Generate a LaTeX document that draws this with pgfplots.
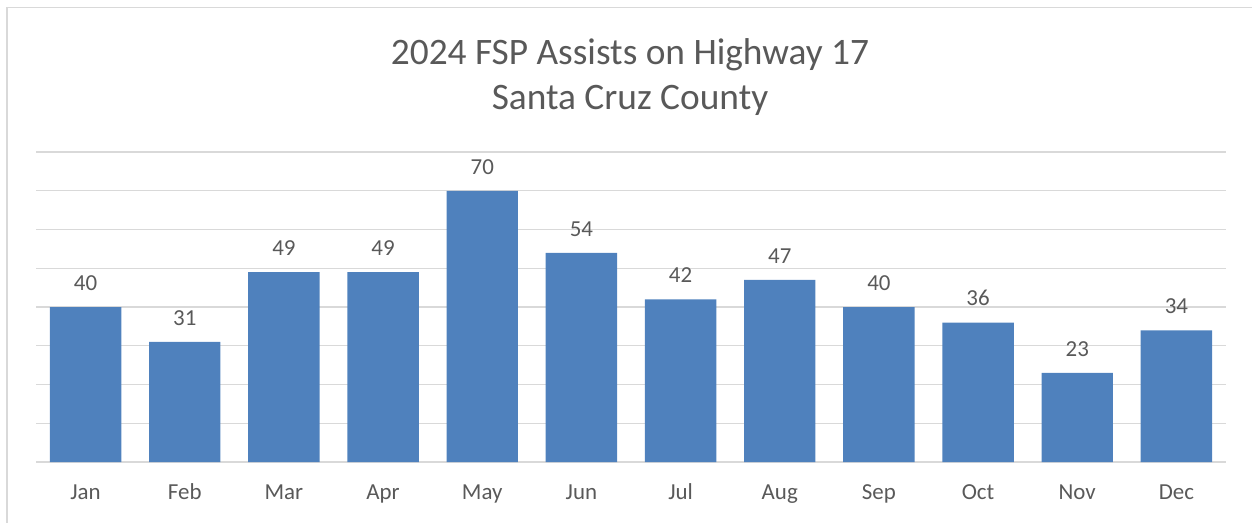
\documentclass[border=0pt]{standalone}
\usepackage{pgfplots}
\pgfplotsset{compat=1.18}
\usepackage{fontspec}
\setmainfont{Carlito}
\definecolor{barblue}{HTML}{4F81BD}
\definecolor{gridgray}{HTML}{D9D9D9}
\definecolor{txtgray}{HTML}{595959}
\begin{document}
\begin{tikzpicture}
\path[use as bounding box] (0,0) rectangle (1252bp,523bp);
\draw[gridgray, line width=1.5bp] (7bp,0) -- (7bp,515.5bp) -- (1252bp,515.5bp);
\begin{axis}[
  at={(36bp,61bp)}, anchor=south west,
  scale only axis, width=1190bp, height=310bp,
  xmin=-0.5, xmax=11.5, ymin=0, ymax=80,
  ybar, bar width=71.4bp,
  axis line style={draw=none},
  ymajorgrids, grid style={gridgray, line width=1.3bp},
  ytick={0,10,...,80}, yticklabels={},
  xtick=data,
  xticklabels={Jan,Feb,Mar,Apr,May,Jun,Jul,Aug,Sep,Oct,Nov,Dec},
  xticklabel style={font=\fontsize{23}{26}\selectfont, text=txtgray, yshift=-18bp, text height=16bp, text depth=5bp},
  major tick length=0pt,
  nodes near coords,
  every node near coord/.append style={font=\fontsize{23}{26}\selectfont, text=txtgray, yshift=13bp},
  /pgf/number format/assume math mode=true,
  clip=false,
]
\addplot[fill=barblue, draw=none] coordinates {
(0,40) (1,31) (2,49) (3,49) (4,70) (5,54) (6,42) (7,47) (8,40) (9,36) (10,23) (11,34)
};
\end{axis}
\node[text=txtgray, font=\fontsize{37.5}{44}\selectfont] at (630bp,468bp) {2024 FSP Assists on Highway 17};
\node[text=txtgray, font=\fontsize{37.5}{44}\selectfont] at (630bp,423bp) {Santa Cruz County};
\end{tikzpicture}
\end{document}
